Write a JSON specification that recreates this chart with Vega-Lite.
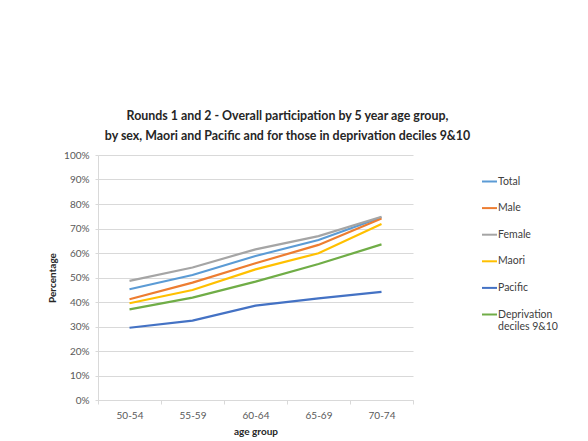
{
  "$schema": "https://vega.github.io/schema/vega-lite/v6.json",
  "width": 315,
  "height": 245,
  "autosize": "none",
  "padding": {"left": 98, "top": 155, "right": 175, "bottom": 41},
  "background": "white",
  "title": {
    "text": ["Rounds 1 and 2 - Overall participation by 5 year age group,", "by sex, Maori and Pacific and for those in deprivation deciles 9&10"],
    "font": "Lato",
    "fontSize": 12.4,
    "fontWeight": "bold",
    "color": "#262626",
    "anchor": "middle",
    "frame": "group",
    "dx": 32,
    "offset": 8,
    "lineHeight": 20
  },
  "data": {
    "values": [
      {"age": "50-54", "series": "Total", "value": 0.452},
      {"age": "55-59", "series": "Total", "value": 0.510},
      {"age": "60-64", "series": "Total", "value": 0.588},
      {"age": "65-69", "series": "Total", "value": 0.653},
      {"age": "70-74", "series": "Total", "value": 0.746},
      {"age": "50-54", "series": "Male", "value": 0.411},
      {"age": "55-59", "series": "Male", "value": 0.479},
      {"age": "60-64", "series": "Male", "value": 0.558},
      {"age": "65-69", "series": "Male", "value": 0.633},
      {"age": "70-74", "series": "Male", "value": 0.741},
      {"age": "50-54", "series": "Female", "value": 0.486},
      {"age": "55-59", "series": "Female", "value": 0.541},
      {"age": "60-64", "series": "Female", "value": 0.615},
      {"age": "65-69", "series": "Female", "value": 0.669},
      {"age": "70-74", "series": "Female", "value": 0.748},
      {"age": "50-54", "series": "Maori", "value": 0.395},
      {"age": "55-59", "series": "Maori", "value": 0.449},
      {"age": "60-64", "series": "Maori", "value": 0.533},
      {"age": "65-69", "series": "Maori", "value": 0.599},
      {"age": "70-74", "series": "Maori", "value": 0.718},
      {"age": "50-54", "series": "Pacific", "value": 0.295},
      {"age": "55-59", "series": "Pacific", "value": 0.324},
      {"age": "60-64", "series": "Pacific", "value": 0.385},
      {"age": "65-69", "series": "Pacific", "value": 0.415},
      {"age": "70-74", "series": "Pacific", "value": 0.441},
      {"age": "50-54", "series": "Deprivation deciles 9&10", "value": 0.370},
      {"age": "55-59", "series": "Deprivation deciles 9&10", "value": 0.418},
      {"age": "60-64", "series": "Deprivation deciles 9&10", "value": 0.483},
      {"age": "65-69", "series": "Deprivation deciles 9&10", "value": 0.555},
      {"age": "70-74", "series": "Deprivation deciles 9&10", "value": 0.635}
    ]
  },
  "mark": {"type": "line", "strokeWidth": 2.2},
  "encoding": {
    "x": {
      "field": "age",
      "type": "nominal",
      "bandPosition": 0.5,
      "scale": {"type": "band", "paddingInner": 0, "paddingOuter": 0},
      "axis": {
        "title": "age group",
        "titleFont": "Lato",
        "titleFontSize": 10,
        "titleFontWeight": "bold",
        "titleColor": "#262626",
        "titlePadding": 6,
        "labelAngle": 0,
        "labelFont": "Lato",
        "labelFontSize": 10,
        "labelColor": "#595959",
        "labelPadding": 6,
        "tickBand": "extent",
        "tickColor": "#d9d9d9",
        "tickSize": 4,
        "domainColor": "#d9d9d9",
        "grid": false
      }
    },
    "y": {
      "field": "value",
      "type": "quantitative",
      "scale": {"domain": [0, 1]},
      "axis": {
        "title": "Percentage",
        "titleFont": "Lato",
        "titleFontSize": 10,
        "titleFontWeight": "bold",
        "titleColor": "#262626",
        "titlePadding": 6,
        "format": ".0%",
        "values": [0, 0.1, 0.2, 0.3, 0.4, 0.5, 0.6, 0.7, 0.8, 0.9, 1],
        "labelFont": "Lato",
        "labelFontSize": 10,
        "labelColor": "#595959",
        "labelPadding": 6,
        "tickColor": "#d9d9d9",
        "tickSize": 3,
        "domainColor": "#d9d9d9",
        "gridColor": "#d9d9d9",
        "gridWidth": 1
      }
    },
    "color": {
      "field": "series",
      "type": "nominal",
      "scale": {
        "domain": ["Total", "Male", "Female", "Maori", "Pacific", "Deprivation deciles 9&10"],
        "range": ["#5B9BD5", "#ED7D31", "#A5A5A5", "#FFC000", "#4472C4", "#70AD47"]
      },
      "legend": {
        "title": null,
        "orient": "none",
        "legendX": 383,
        "legendY": 18,
        "symbolType": "stroke",
        "symbolSize": 225,
        "symbolStrokeWidth": 2,
        "labelFont": "Lato",
        "labelFontSize": 10.5,
        "labelColor": "#404040",
        "labelOffset": 0,
        "rowPadding": 12.6,
        "labelExpr": "datum.label == 'Deprivation deciles 9&10' ? ['Deprivation', 'deciles 9&10'] : datum.label"
      }
    }
  },
  "config": {"view": {"stroke": null}}
}
